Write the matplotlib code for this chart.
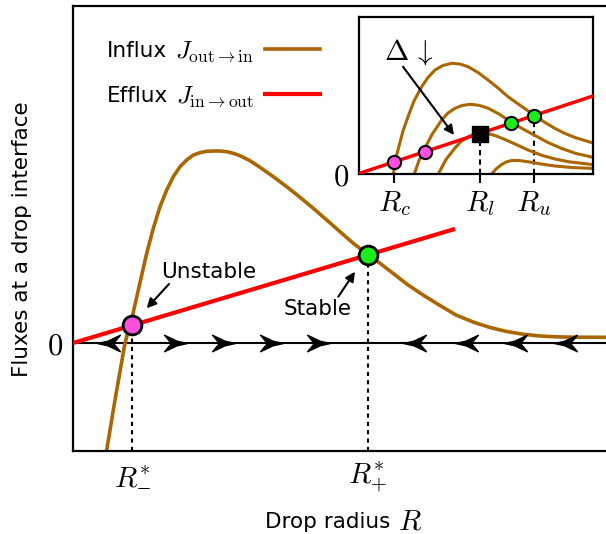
import numpy as np
import matplotlib.pyplot as plt
from matplotlib.path import Path

plt.rcParams['mathtext.fontset'] = 'cm'
plt.rcParams['font.family'] = 'DejaVu Sans'

BROWN = '#aa6600'
PINK = '#ff4fdd'
GREEN = '#1aee1a'

# main panel: influx curve
r_in = [0.674, 0.84, 1.04, 1.18, 1.306, 1.474, 1.606, 1.74, 1.874, 2.006, 2.14,
        2.274, 2.406, 2.54, 2.674, 2.806, 2.94, 3.074, 3.206, 3.34, 3.54, 3.74,
        4.006, 4.274, 4.54, 4.806, 5.074, 5.34, 5.606, 5.894, 6.14, 6.406, 6.674,
        7.0, 7.34, 7.66, 8.0, 8.34, 8.674, 9.0, 9.34, 9.66, 10.0, 10.66, 11.38]
j_in = [-2.14, -1.14, 0.0, 0.50, 1.06, 1.794, 2.294, 2.726, 3.06, 3.326, 3.526,
        3.66, 3.76, 3.806, 3.834, 3.84, 3.84, 3.826, 3.794, 3.746, 3.646, 3.514,
        3.326, 3.126, 2.914, 2.694, 2.46, 2.226, 1.994, 1.774, 1.594, 1.39, 1.18,
        0.96, 0.75, 0.56, 0.42, 0.31, 0.23, 0.176, 0.14, 0.124, 0.116, 0.114, 0.11]
# efflux line
r_out = [0.0, 7.6]
j_out = [0.0, 2.27]
# fixed points
r_fix = [1.18, 5.89]
j_fix = [0.37, 1.76]
fix_labels = [r'$R_{\minus}^{*}$', r'$R_{+}^{*}$']
# flow arrows on the R axis
left_tips = [0.48, 6.6, 7.64, 8.62, 9.62]
right_tips = [2.27, 3.24, 4.2, 5.14]

# inset: family of influx curves for decreasing Delta
ins_r = [
    [0.69, 0.72, 0.79, 0.88, 0.98, 1.10, 1.254, 1.38, 1.52, 1.68, 1.854, 2.02,
     2.18, 2.38, 2.58, 2.78, 2.98, 3.24, 3.5, 3.72, 3.92, 4.12, 4.32, 4.66, 4.7],
    [1.106, 1.2, 1.32, 1.46, 1.654, 1.78, 1.92, 2.06, 2.22, 2.40, 2.586, 2.80,
     3.034, 3.26, 3.52, 3.78, 4.054, 4.34, 4.7],
    [1.586, 1.74, 1.92, 2.04, 2.186, 2.30, 2.42, 2.56, 2.72, 2.92, 3.12, 3.38,
     3.654, 3.92, 4.186, 4.7],
    [2.654, 2.74, 2.854, 2.94, 3.054, 3.20, 3.386, 3.64, 3.92, 4.26, 4.7],
]
ins_j = [
    [0.0, 0.26, 0.52, 0.86, 1.146, 1.46, 1.746, 1.93, 2.08, 2.17, 2.214, 2.2,
     2.146, 2.03, 1.88, 1.72, 1.546, 1.36, 1.18, 1.03, 0.91, 0.81, 0.73, 0.626, 0.615],
    [0.0, 0.27, 0.52, 0.79, 1.08, 1.22, 1.314, 1.37, 1.394, 1.374, 1.314, 1.20,
     1.046, 0.91, 0.77, 0.63, 0.51, 0.41, 0.33],
    [0.0, 0.29, 0.52, 0.65, 0.746, 0.794, 0.814, 0.81, 0.77, 0.69, 0.60, 0.48,
     0.374, 0.30, 0.246, 0.185],
    [0.0, 0.10, 0.19, 0.24, 0.27, 0.27, 0.244, 0.20, 0.16, 0.13, 0.11],
]
ins_r_out = [0.0, 4.68]
ins_j_out = [0.01, 1.56]
ins_pink_r = [0.70, 1.32]
ins_pink_j = [0.24, 0.446]
ins_sq_r = [2.42]
ins_sq_j = [0.81]
ins_green_r = [3.034, 3.5]
ins_green_j = [1.015, 1.168]
ins_ticks = [0.70, 2.42, 3.5]
ins_labels = [r'$R_c$', r'$R_l$', r'$R_u$']

right_arrow = Path([(0, 0), (-0.45, 0.1), (-1, 0.36), (-0.7, 0), (-1, -0.36),
                    (-0.45, -0.1), (0, 0)], closed=True)
left_arrow = Path([(0, 0), (0.45, 0.1), (1, 0.36), (0.7, 0), (1, -0.36),
                   (0.45, -0.1), (0, 0)], closed=True)

fig = plt.figure(figsize=(6.06, 5.34), dpi=100)
ax = fig.add_axes([73/606, 1-451/534, 539/606, 445/534])
ax.set_xlim(0, 10.78)
ax.set_ylim(-2.16, 6.74)

l_in, = ax.plot(r_in, j_in, color=BROWN, lw=2.6, zorder=2)
l_out, = ax.plot(r_out, j_out, color='red', lw=3, zorder=3)
ax.axhline(0, color='k', lw=1.5, zorder=1)
ax.plot(left_tips, np.zeros(len(left_tips)), ls='none', marker=left_arrow,
        ms=33, color='k', zorder=4)
ax.plot(right_tips, np.zeros(len(right_tips)), ls='none', marker=right_arrow,
        ms=33, color='k', zorder=4)

ax.vlines(r_fix, -2.16, j_fix, colors='k', linestyles=(0, (2, 2)), lw=1.5, zorder=1)
ax.plot(r_fix[0], j_fix[0], 'o', ms=13.5, mfc=PINK, mec='k', mew=2, zorder=5)
ax.plot(r_fix[1], j_fix[1], 'o', ms=13.5, mfc=GREEN, mec='k', mew=2, zorder=5)

ax.set_xticks(r_fix, fix_labels, fontsize=21)
ax.set_yticks([0], [r'$0$'], fontsize=22)
ax.tick_params(length=0, pad=7)
for s in ax.spines.values():
    s.set_linewidth(1.6)

ax.text(1.754, 1.294, 'Unstable', fontsize=15.5, ha='left', va='baseline')
ax.annotate('', xy=(1.474, 0.694), xytext=(1.92, 1.18),
            arrowprops=dict(arrowstyle='-|>', color='k', lw=1.5,
                            mutation_scale=14, shrinkA=0, shrinkB=0))
ax.text(4.206, 0.56, 'Stable', fontsize=15.5, ha='left', va='baseline')
ax.annotate('', xy=(5.64, 1.426), xytext=(5.306, 0.926),
            arrowprops=dict(arrowstyle='-|>', color='k', lw=1.5,
                            mutation_scale=14, shrinkA=0, shrinkB=0))

# legend: words in sans, symbols in the legend itself
ax.text(0.674, 5.726, 'Influx', fontsize=15.5, ha='left', va='baseline')
ax.text(0.674, 4.826, 'Efflux', fontsize=15.5, ha='left', va='baseline')
ax.legend([l_in, l_out],
          [r'$J_{\rm out\to in}$', r'$J_{\rm in\to out}$'],
          loc='upper left', bbox_to_anchor=(0.189, 0.927), frameon=False,
          markerfirst=False, fontsize=18, handlelength=2.2,
          handletextpad=0.45, labelspacing=0.8, borderpad=0, borderaxespad=0)

fig.text(265/606, 1-528/534, 'Drop radius', fontsize=15.5, ha='left', va='baseline')
fig.text(398/606, 1-529/534, r'$R$', fontsize=21, ha='left', va='baseline')
fig.text(22/606, 1-239/534, 'Fluxes at a drop interface', fontsize=15.5,
         rotation=90, ha='center', va='center')

# inset
axin = fig.add_axes([359/606, 1-174/534, 234/606, 157/534])
axin.set_xlim(0, 4.68)
axin.set_ylim(0, 3.14)
for r, j in zip(ins_r, ins_j):
    axin.plot(r, j, color=BROWN, lw=2.2, zorder=2)
axin.plot(ins_r_out, ins_j_out, color='red', lw=2.5, zorder=3)
axin.vlines([ins_sq_r[0], ins_green_r[1]], 0, [ins_sq_j[0], ins_green_j[1]],
            colors='k', linestyles=(0, (2.5, 2)), lw=1.5, zorder=1)
axin.plot(ins_pink_r, ins_pink_j, 'o', ms=9.5, mfc=PINK, mec='k', mew=1.5, zorder=5)
axin.plot(ins_green_r, ins_green_j, 'o', ms=9.5, mfc=GREEN, mec='k', mew=1.5, zorder=5)
axin.plot(ins_sq_r, ins_sq_j, 's', ms=11, color='k', zorder=5)
axin.set_xticks(ins_ticks, ins_labels, fontsize=21)
axin.set_yticks([0], [r'$0$'], fontsize=22)
axin.tick_params(axis='x', length=6.5, width=1.5, direction='out', pad=4)
axin.tick_params(axis='y', length=0, pad=7)
for s in axin.spines.values():
    s.set_linewidth(1.6)
axin.text(0.5, 2.294, r'$\Delta\,\downarrow$', fontsize=21, ha='left', va='baseline')
axin.annotate('', xy=(1.9, 0.78), xytext=(0.88, 2.146),
              arrowprops=dict(arrowstyle='-|>', color='k', lw=1.5,
                              mutation_scale=14, shrinkA=0, shrinkB=0))

fig.savefig('out.png', dpi=100)
